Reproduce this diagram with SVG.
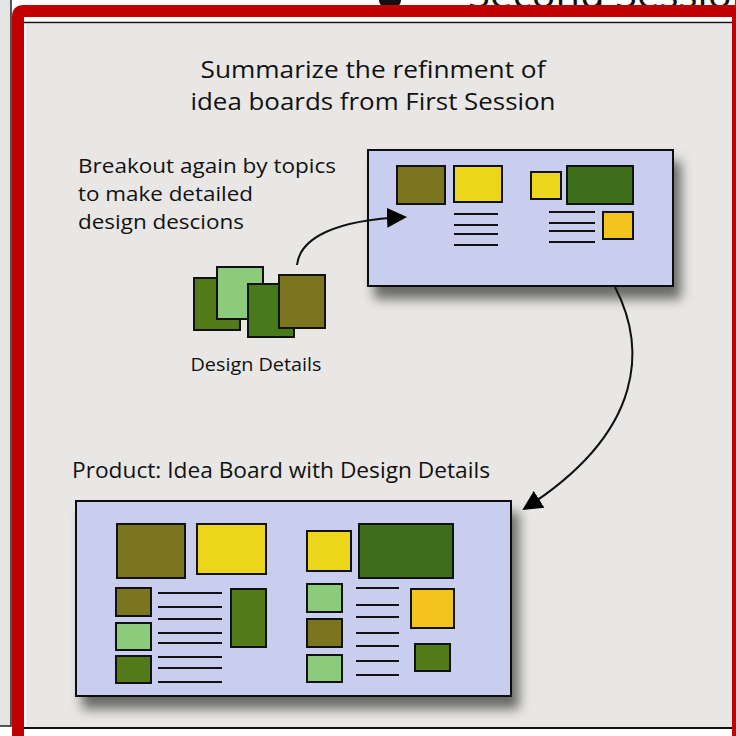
<svg xmlns="http://www.w3.org/2000/svg" width="736" height="736" viewBox="0 0 736 736">
<defs>
<style>
text{font-family:"Open Sans","Liberation Sans",sans-serif;fill:#111}
.t{font-size:23.5px}
.l{font-size:20.5px}
.p{font-size:22.5px}
.s{font-size:19px}
.b{stroke:#111;stroke-width:2}
.ln{stroke:#111;stroke-width:2}
.olive{fill:#7b7520}
.yel{fill:#ecd61c}
.gold{fill:#f2c51e}
.dg{fill:#3f6e1a}
.mg{fill:#527a18}
.lg{fill:#8ccb7c}
.board{fill:#c9cdee;stroke:#111;stroke-width:2}
.conn{fill:none;stroke:#111;stroke-width:2}
</style>
<filter id="sh" x="-10%" y="-10%" width="130%" height="140%">
<feDropShadow dx="7" dy="12" stdDeviation="6" flood-color="#000" flood-opacity="0.55"/>
</filter>
<marker id="ah" viewBox="0 0 10 10" refX="9" refY="5" markerWidth="20" markerHeight="20" markerUnits="userSpaceOnUse" orient="auto">
<path d="M0,0 L10,5 L0,10 z" fill="#000"/>
</marker>
</defs>
<rect width="736" height="736" fill="#ffffff"/>
<!-- outer left strip -->
<rect x="0" y="0" width="11" height="726" fill="#e4e4e4"/>
<path d="M11,0 V726 H0" fill="none" stroke="#222" stroke-width="1.5"/>
<!-- top header remnants -->
<ellipse cx="390" cy="1" rx="11" ry="7" fill="#111"/>
<text x="468" y="8" style="font-size:40px" fill="#111">Second Session</text>
<!-- panel -->
<rect x="24" y="17" width="708" height="719" fill="#ffffff"/>
<rect x="26" y="24" width="706" height="703" fill="#e8e7e5"/>
<line x1="24" y1="22.5" x2="732" y2="22.5" stroke="#111" stroke-width="1.5"/>
<line x1="24" y1="728" x2="732" y2="728" stroke="#111" stroke-width="2"/>
<!-- red frame -->
<path fill-rule="evenodd" fill="#c00000" d="M12,736 V17 Q12,5 24,5 H736 V736 Z M24,17 V736 H732 V17 Z"/>

<!-- texts -->
<g id="title">
<text class="t" x="373" y="78" text-anchor="middle" textLength="345" lengthAdjust="spacingAndGlyphs">Summarize the refinment of</text>
<text class="t" x="373" y="110" text-anchor="middle" textLength="365" lengthAdjust="spacingAndGlyphs">idea boards from First Session</text>
</g>
<g id="breakout-label">
<text class="l" x="78" y="173" textLength="258" lengthAdjust="spacingAndGlyphs">Breakout again by topics</text>
<text class="l" x="78" y="201" textLength="175" lengthAdjust="spacingAndGlyphs">to make detailed</text>
<text class="l" x="78" y="229" textLength="166" lengthAdjust="spacingAndGlyphs">design descions</text>
</g>

<!-- top board -->
<g id="board1">
<rect class="board" x="368" y="150" width="305" height="136" filter="url(#sh)"/>
<rect class="olive b" x="397" y="166" width="48" height="38"/>
<rect class="yel b" x="454" y="166" width="48" height="36"/>
<g class="ln">
<line x1="454" y1="214" x2="498" y2="214"/><line x1="454" y1="225" x2="498" y2="225"/>
<line x1="454" y1="234" x2="498" y2="234"/><line x1="454" y1="245" x2="498" y2="245"/>
</g>
<rect class="yel b" x="531" y="172" width="30" height="27"/>
<rect class="dg b" x="567" y="166" width="66" height="38"/>
<g class="ln">
<line x1="549" y1="212" x2="595" y2="212"/><line x1="549" y1="223" x2="595" y2="223"/>
<line x1="549" y1="231" x2="595" y2="231"/><line x1="549" y1="242" x2="595" y2="242"/>
</g>
<rect class="gold b" x="603" y="212" width="30" height="27"/>
</g>

<!-- design details -->
<g id="design-details">
<rect class="mg b" x="194" y="278" width="46" height="52"/>
<rect class="lg b" x="217" y="267" width="46" height="52"/>
<rect class="dg b" x="248" y="284" width="46" height="53" style="fill:#467a1a"/>
<rect class="olive b" x="279" y="275" width="46" height="53"/>
<text class="s" x="256" y="371" text-anchor="middle" textLength="131" lengthAdjust="spacingAndGlyphs">Design Details</text>
</g>

<g id="product-label">
<text class="p" x="72" y="478" textLength="418" lengthAdjust="spacingAndGlyphs">Product: Idea Board with Design Details</text>
</g>

<!-- bottom board -->
<g id="board2">
<rect class="board" x="76" y="501" width="435" height="195" filter="url(#sh)"/>
<rect class="olive b" x="117" y="524" width="68" height="54"/>
<rect class="yel b" x="197" y="524" width="69" height="50"/>
<rect class="yel b" x="307" y="531" width="44" height="40"/>
<rect class="dg b" x="359" y="524" width="94" height="54"/>
<rect class="olive b" x="116" y="588" width="35" height="28"/>
<rect class="lg b" x="116" y="623" width="35" height="27"/>
<rect class="mg b" x="116" y="656" width="35" height="27"/>
<g class="ln">
<line x1="158" y1="593" x2="222" y2="593"/><line x1="158" y1="607" x2="222" y2="607"/>
<line x1="158" y1="619" x2="222" y2="619"/><line x1="158" y1="633" x2="222" y2="633"/>
<line x1="158" y1="643" x2="222" y2="643"/><line x1="158" y1="657" x2="222" y2="657"/>
<line x1="158" y1="668" x2="222" y2="668"/><line x1="158" y1="682" x2="222" y2="682"/>
</g>
<rect class="mg b" x="231" y="589" width="35" height="58"/>
<rect class="lg b" x="307" y="584" width="35" height="28"/>
<rect class="olive b" x="307" y="619" width="35" height="28"/>
<rect class="lg b" x="307" y="655" width="35" height="27"/>
<g class="ln">
<line x1="356" y1="588" x2="399" y2="588"/><line x1="356" y1="605" x2="399" y2="605"/>
<line x1="356" y1="617" x2="399" y2="617"/><line x1="356" y1="633" x2="399" y2="633"/>
<line x1="356" y1="646" x2="399" y2="646"/><line x1="356" y1="661" x2="399" y2="661"/>
<line x1="356" y1="675" x2="399" y2="675"/>
</g>
<rect class="gold b" x="411" y="589" width="43" height="39"/>
<rect class="mg b" x="415" y="644" width="35" height="27"/>
</g>

<!-- connectors -->
<g id="connectors">
<path class="conn" d="M297,265 C300,238 335,220 405,217" marker-end="url(#ah)"/>
<path class="conn" d="M615,287 C645,345 648,430 524,509" marker-end="url(#ah)"/>
</g>
</svg>
